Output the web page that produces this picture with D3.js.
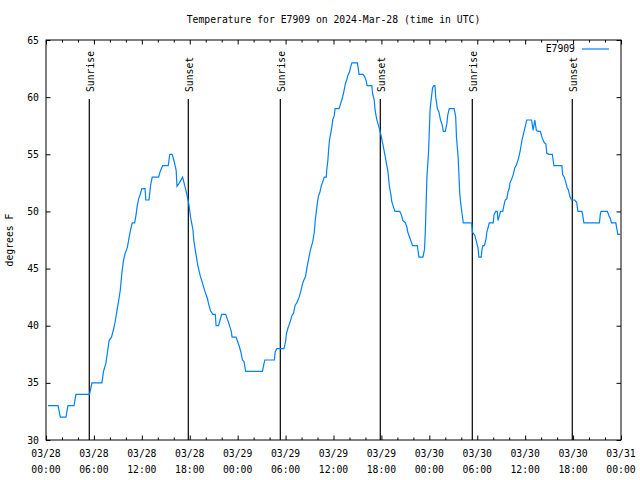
<!DOCTYPE html>
<html>
<head>
<meta charset="utf-8">
<script src="https://cdn.jsdelivr.net/npm/d3@7"></script>
<style>
  html, body { margin: 0; padding: 0; background: #fff; }
  svg { display: block; }
  text { font-family: "DejaVu Sans Mono", "Liberation Mono", monospace; font-size: 9.75px; fill: #000; }
</style>
</head>
<body>
<script>
// ---- data ----
const seriesName = "E7909";
const chartTitle = "Temperature for E7909 on 2024-Mar-28 (time in UTC)";
const yLabel = "degrees F";
const hours = [
  0.25, 1.5, 1.8, 2.5, 2.75, 3.5, 3.75, 5.45, 5.75, 7.0, 7.2, 7.5, 7.7, 7.9, 8.2, 8.5, 8.7, 8.9, 9.1, 9.3,
  9.5, 9.7, 9.9, 10.2, 10.4, 10.6, 10.8, 11.1, 11.3, 11.4, 11.6, 11.8, 12.0, 12.4, 12.5, 12.9, 13.1, 13.3, 14.1, 14.3,
  14.6, 15.3, 15.5, 15.8, 16.0, 16.3, 16.4, 16.7, 17.1, 17.4, 17.6, 17.9, 18.1, 18.4, 18.5, 18.7, 19.0, 19.3, 19.6, 19.9,
  20.2, 20.4, 20.6, 20.9, 21.2, 21.3, 21.6, 21.8, 22.0, 22.5, 22.7, 22.9, 23.2, 23.3, 23.8, 24.0, 24.2, 24.4, 24.6, 24.8,
  25.0, 27.1, 27.3, 27.4, 28.6, 28.7, 28.9, 29.8, 30.0, 30.1, 30.3, 30.4, 30.6, 30.8, 31.0, 31.2, 31.4, 31.7, 31.9, 32.2,
  32.5, 32.7, 32.9, 33.1, 33.4, 33.6, 33.7, 33.85, 33.97, 34.1, 34.3, 34.5, 34.65, 34.85, 35.1, 35.15, 35.3, 35.4, 35.5, 35.65,
  35.8, 35.9, 36.1, 36.2, 36.7, 36.9, 37.1, 37.3, 37.5, 37.65, 37.8, 38.0, 38.15, 38.3, 39.0, 39.1, 39.2, 39.7, 39.9, 40.1,
  40.2, 40.8, 40.9, 41.1, 41.2, 41.4, 41.6, 41.8, 42.0, 42.2, 42.45, 42.65, 42.8, 42.9, 43.0, 43.2, 43.3, 43.5, 43.7, 44.3,
  44.5, 44.7, 45.0, 45.2, 45.3, 45.5, 45.7, 45.9, 46.5, 46.7, 47.2, 47.4, 47.5, 47.6, 47.7, 47.9, 48.0, 48.1, 48.3, 48.4,
  48.55, 48.7, 48.8, 49.0, 49.2, 49.4, 49.6, 49.75, 50.0, 50.2, 50.3, 50.5, 51.1, 51.3, 51.4, 51.6, 51.7, 51.8, 51.95, 52.1,
  52.25, 53.3, 53.4, 53.7, 53.9, 54.1, 54.2, 54.5, 54.6, 54.7, 54.9, 55.1, 55.2, 55.4, 55.5, 56.0, 56.1, 56.3, 56.5, 56.6,
  56.8, 56.9, 57.2, 57.3, 57.5, 57.7, 57.85, 58.0, 58.1, 58.35, 58.5, 58.7, 58.9, 59.15, 59.35, 59.6, 59.8, 60.0, 60.2, 60.8,
  61.0, 61.2, 61.4, 61.6, 61.9, 62.1, 62.4, 62.6, 62.7, 62.95, 63.4, 63.6, 64.6, 64.7, 64.9, 65.1, 65.25, 65.4, 65.6, 65.8,
  66.2, 66.45, 66.6, 67.1, 67.2, 67.35, 69.3, 69.4, 69.5, 70.3, 70.5, 70.65, 70.8, 71.35, 71.5, 71.6, 71.9
];
const temps = [
  33, 33, 32, 32, 33, 33, 34, 34, 35, 35, 36, 36.7, 37.7, 38.7, 39, 39.8, 40.5, 41.4, 42.2, 43.1,
  44.6, 45.7, 46.3, 46.9, 47.7, 48.4, 49, 49, 49.8, 50.4, 51.1, 51.5, 52, 52, 51, 51, 52.3, 53, 53, 53.5,
  54, 54, 55, 55, 54.5, 53.6, 52.2, 52.5, 53, 52.2, 51.6, 50.6, 49.5, 48.4, 47.5, 46.6, 45.3, 44.4, 43.7, 43.0,
  42.4, 41.8, 41.3, 41, 41, 40, 40, 40.5, 41, 41, 40.6, 40.2, 39.5, 39, 39, 38.6, 38.2, 37.7, 37, 36.85,
  36, 36, 36.7, 37, 37, 37.7, 38, 38, 38.6, 39.3, 39.8, 40, 40.4, 40.9, 41.1, 41.8, 42, 42.5, 43, 43.85,
  44.3, 45.2, 45.9, 46.6, 47.35, 48.2, 49.1, 50, 50.7, 51.3, 51.7, 52.3, 52.6, 53, 53, 53.6, 54.5, 55.5, 56.25, 56.8,
  57.4, 58, 58.4, 59, 59, 59.45, 59.9, 60.5, 61.2, 61.5, 61.9, 62.2, 62.65, 63, 63, 62.5, 62, 62, 61.8, 61.4,
  61, 61, 60.3, 59.75, 58.9, 58.1, 57.6, 57.1, 56.5, 55.8, 54.9, 54.1, 53.6, 52.9, 52.2, 51.4, 50.85, 50.4, 50, 50,
  49.7, 49.2, 49, 48.6, 48.2, 47.8, 47.4, 47, 47, 46, 46, 46.7, 48.3, 50.7, 53, 55.2, 57.1, 59, 60.2, 60.8,
  61, 61, 60, 59, 58.7, 58, 57.6, 57, 57, 57.7, 58.4, 59, 59, 58.3, 56.5, 54.8, 53.3, 51.6, 50.6, 49.8,
  49, 49, 48.2, 47.9, 47.35, 46.8, 46, 46, 46.7, 47, 47, 47.6, 48.2, 48.7, 49, 49, 49.7, 50, 50, 49.2,
  49.7, 50, 50, 50.4, 51, 51.1, 51.7, 52, 52.5, 52.9, 53.2, 53.8, 54.06, 54.6, 55.2, 56.25, 56.8, 57.4, 58, 58,
  57.1, 58, 57.1, 57, 57, 56.5, 56, 55.9, 55.1, 55, 55, 54, 54, 53.2, 53, 52.5, 52.1, 51.9, 51.3, 51,
  51, 50.8, 50, 50, 49.7, 49, 49, 49.7, 50, 50, 49.6, 49.4, 49, 49, 48.4, 48, 48
];
const eventHours = [5.42, 17.82, 29.34, 41.86, 53.38, 65.9];
const eventLabels = ["Sunrise", "Sunset", "Sunrise", "Sunset", "Sunrise", "Sunset"];
const yTicks = [30, 35, 40, 45, 50, 55, 60, 65];
const xTickHours = [0, 6, 12, 18, 24, 30, 36, 42, 48, 54, 60, 66, 72];
const xTickDates = ["03/28", "03/28", "03/28", "03/28", "03/29", "03/29", "03/29", "03/29", "03/30", "03/30", "03/30", "03/30", "03/31"];
const xTickTimes = ["00:00", "06:00", "12:00", "18:00", "00:00", "06:00", "12:00", "18:00", "00:00", "06:00", "12:00", "18:00", "00:00"];
const xMinorHours = d3.range(0, 73, 2);

// ---- layout ----
const W = 640, H = 480;
const L = 46, R = 621, T = 40, B = 440;
const lineColor = "#0080ff";

const svg = d3.select("body").append("svg").attr("width", W).attr("height", H);

const x = d3.scaleLinear().domain([0, 72]).range([L, R]);
const y = d3.scaleLinear().domain([30, 65]).range([B, T]);

// title
svg.append("text").attr("x", (L + R) / 2).attr("y", 23).attr("text-anchor", "middle").text(chartTitle);

// y label
svg.append("text").attr("transform", `translate(13,${(T + B) / 2}) rotate(-90)`)
  .attr("text-anchor", "middle").text(yLabel);

// axes (bottom/left with labels, top/right mirrored)
const bottomMajor = d3.axisBottom(x).tickValues(xTickHours).tickSize(-4.5).tickFormat(() => "");
const bottomMinor = d3.axisBottom(x).tickValues(xMinorHours.filter(h => h % 6 !== 0)).tickSize(-2.5).tickFormat(() => "");
const topMajor = d3.axisTop(x).tickValues(xTickHours).tickSize(-4.5).tickFormat(() => "");
const topMinor = d3.axisTop(x).tickValues(xMinorHours.filter(h => h % 6 !== 0)).tickSize(-2.5).tickFormat(() => "");
const leftAx = d3.axisLeft(y).tickValues(yTicks).tickSize(-4.5).tickPadding(11).tickFormat(d3.format("d"));
const rightAx = d3.axisRight(y).tickValues(yTicks).tickSize(-4.5).tickFormat(() => "");

function styleAxis(g) {
  g.select(".domain").remove();
  g.selectAll(".tick line").attr("stroke", "#000").attr("stroke-width", 1);
}
svg.append("g").attr("transform", `translate(0,${B})`).call(bottomMajor).call(styleAxis);
svg.append("g").attr("transform", `translate(0,${B})`).call(bottomMinor).call(styleAxis);
svg.append("g").attr("transform", `translate(0,${T})`).call(topMajor).call(styleAxis);
svg.append("g").attr("transform", `translate(0,${T})`).call(topMinor).call(styleAxis);
const gl = svg.append("g").attr("transform", `translate(${L},0)`).call(leftAx).call(styleAxis);
gl.selectAll(".tick text").attr("font-family", null).attr("font-size", null).attr("fill", "#000").attr("text-anchor", "end").attr("x", -7);
svg.append("g").attr("transform", `translate(${R},0)`).call(rightAx).call(styleAxis);

// x tick labels (two lines)
const xl = svg.append("g");
xTickHours.forEach((h, i) => {
  const t = xl.append("text").attr("x", x(h)).attr("text-anchor", "middle");
  t.append("tspan").attr("x", x(h)).attr("y", 457).text(xTickDates[i]);
  t.append("tspan").attr("x", x(h)).attr("y", 473).text(xTickTimes[i]);
});

// sunrise / sunset lines
const ev = svg.append("g");
eventHours.forEach((h, i) => {
  ev.append("line").attr("x1", x(h)).attr("x2", x(h)).attr("y1", B).attr("y2", 99)
    .attr("stroke", "#000").attr("stroke-width", 1.2);
  ev.append("text").attr("transform", `translate(${x(h) + 1},92) rotate(-90)`)
    .attr("text-anchor", "start").attr("dy", "0.35em").text(eventLabels[i]);
});

// data line
const pts = hours.map((h, i) => [h, temps[i]]);
svg.append("defs").append("clipPath").attr("id", "clip")
  .append("rect").attr("x", L).attr("y", T).attr("width", R - L).attr("height", B - T);
svg.append("path").datum(pts)
  .attr("clip-path", "url(#clip)")
  .attr("fill", "none").attr("stroke", lineColor).attr("stroke-width", 1.2)
  .attr("d", d3.line().x(d => x(d[0])).y(d => y(d[1])));

// legend
svg.append("text").attr("x", 575).attr("y", 52).attr("text-anchor", "end").text(seriesName);
svg.append("line").attr("x1", 582).attr("x2", 609).attr("y1", 49).attr("y2", 49)
  .attr("stroke", lineColor).attr("stroke-width", 1.2);

// frame
svg.append("rect").attr("x", L).attr("y", T).attr("width", R - L).attr("height", B - T)
  .attr("fill", "none").attr("stroke", "#000").attr("stroke-width", 1);
</script>
</body>
</html>
